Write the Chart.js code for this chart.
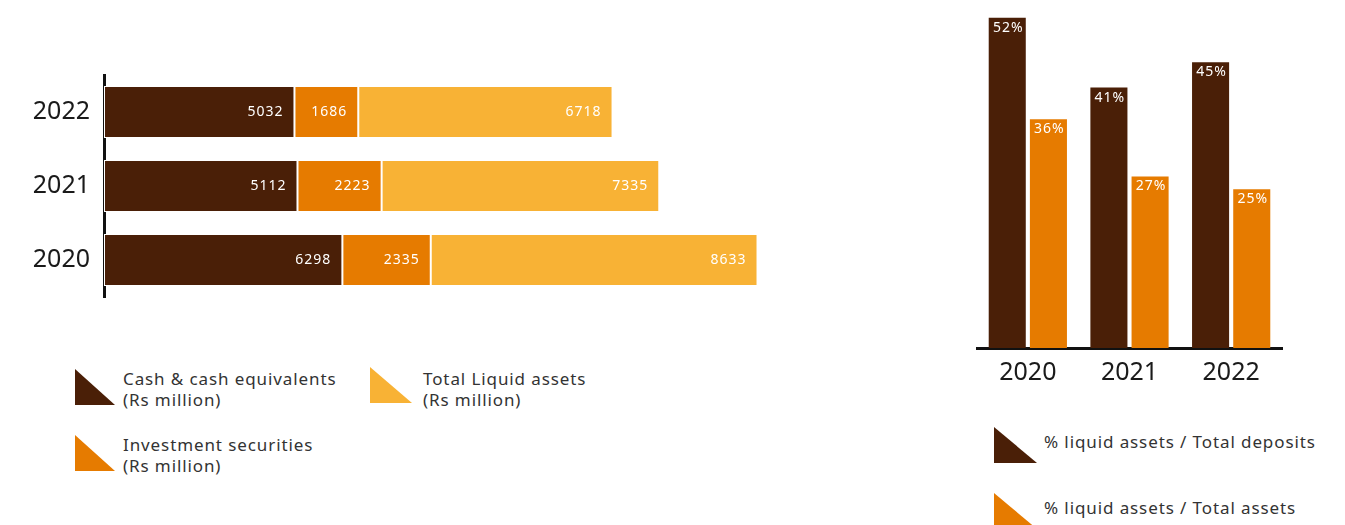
<!DOCTYPE html>
<html>
<head>
<meta charset="utf-8">
<title>Liquid assets</title>
<script src="https://cdn.jsdelivr.net/npm/chart.js@4.4.1/dist/chart.umd.min.js"></script>
<style>
  body { margin: 0; background: #fff; font-family: "Noto Sans", sans-serif; }
  #page { position: relative; width: 1345px; height: 525px; overflow: hidden; }
  #stackWrap { position: absolute; left: 0; top: 0; width: 900px; height: 340px; }
  #ratioWrap { position: absolute; left: 940px; top: 0; width: 405px; height: 403px; }
  .key { position: absolute; }
  .key .tri { position: absolute; left: 0; top: 0; height: 36px;
    clip-path: polygon(0 0, 0 100%, 100% 100%); }
  .key .txt { position: absolute; font-size: 17px; letter-spacing: 0.9px;
    line-height: 21px; color: #333; white-space: nowrap; }
</style>
</head>
<body>
<div id="page">
  <div id="stackWrap"><canvas id="stackChart"></canvas></div>
  <div id="ratioWrap"><canvas id="ratioChart"></canvas></div>
  <div id="stackLegend"></div>
  <div id="ratioLegend"></div>
</div>
<script>
// Rs million, top row first
var years = ['2022', '2021', '2020'];
var cashEquivalents = [5032, 5112, 6298];
var investmentSecurities = [1686, 2223, 2335];
var totalLiquidAssets = [6718, 7335, 8633];

// percentages
var ratioYears = ['2020', '2021', '2022'];
var liquidToDeposits = [52, 41, 45];
var liquidToAssets = [36, 27, 25];

var brown = '#4a1f07';
var orange = '#e67b00';
var yellow = '#f8b235';
var fontName = '"Noto Sans", sans-serif';

// writes each bar's value inside the bar
var valueLabels = {
    id: 'valueLabels',
    afterDatasetsDraw: function (chart, args, opts) {
        var ctx = chart.ctx;
        ctx.save();
        ctx.fillStyle = '#fff';
        ctx.font = '14px ' + fontName;
        ctx.letterSpacing = '1px';
        chart.data.datasets.forEach(function (ds, di) {
            var meta = chart.getDatasetMeta(di);
            meta.data.forEach(function (bar, i) {
                var text = ds.data[i] + (opts.suffix || '');
                if (chart.options.indexAxis === 'y') {
                    ctx.textAlign = 'right';
                    ctx.textBaseline = 'middle';
                    ctx.fillText(text, bar.x - 11, bar.y);
                } else {
                    ctx.textAlign = 'center';
                    ctx.textBaseline = 'middle';
                    ctx.fillText(text, bar.x + 1, bar.y + 10);
                }
            });
        });
        ctx.restore();
    }
};

new Chart(document.getElementById('stackChart'), {
    type: 'bar',
    data: {
        labels: years,
        datasets: [
            { label: 'Cash & cash equivalents|(Rs million)', data: cashEquivalents, backgroundColor: brown },
            { label: 'Investment securities|(Rs million)', data: investmentSecurities, backgroundColor: orange },
            { label: 'Total Liquid assets|(Rs million)', data: totalLiquidAssets, backgroundColor: yellow }
        ]
    },
    options: {
        indexAxis: 'y',
        animation: false,
        responsive: true,
        maintainAspectRatio: false,
        layout: { padding: { left: 0, top: 75, bottom: 43, right: 39 } },
        datasets: {
            bar: {
                barPercentage: 0.7,
                categoryPercentage: 1,
                borderWidth: 1,
                borderColor: '#fff',
                borderSkipped: false
            }
        },
        scales: {
            x: { stacked: true, display: false, min: 0, max: 20000 },
            y: {
                stacked: true,
                grid: { display: false, drawTicks: false },
                border: { display: true, color: '#111', width: 3 },
                ticks: { color: '#1a1a1a', font: { family: fontName, size: 25 }, padding: 14 },
                afterFit: function (scale) { scale.width = 104; }
            }
        },
        plugins: {
            legend: { display: false },
            tooltip: { enabled: false },
            valueLabels: { suffix: '' }
        }
    },
    plugins: [valueLabels]
});

new Chart(document.getElementById('ratioChart'), {
    type: 'bar',
    data: {
        labels: ratioYears,
        datasets: [
            { label: '% liquid assets / Total deposits', data: liquidToDeposits, backgroundColor: brown },
            { label: '% liquid assets / Total assets', data: liquidToAssets, backgroundColor: orange }
        ]
    },
    options: {
        animation: false,
        responsive: true,
        maintainAspectRatio: false,
        layout: { padding: { left: 37, top: 5, bottom: 5, right: 63 } },
        datasets: { bar: { categoryPercentage: 0.81, barPercentage: 0.9 } },
        scales: {
            y: { display: false, min: 0, max: 54 },
            x: {
                grid: { display: false, drawTicks: false },
                border: { display: true, color: '#111', width: 3 },
                ticks: { color: '#1a1a1a', font: { family: fontName, size: 25 }, padding: 10 }
            }
        },
        plugins: {
            legend: { display: false },
            tooltip: { enabled: false },
            valueLabels: { suffix: '%' }
        }
    },
    plugins: [valueLabels]
});

// triangle keys
function addKey(parentId, color, lines, left, top, triWidth, textLeft, textTop) {
    var key = document.createElement('div');
    key.className = 'key';
    key.style.left = left + 'px';
    key.style.top = top + 'px';
    var tri = document.createElement('div');
    tri.className = 'tri';
    tri.style.background = color;
    tri.style.width = triWidth + 'px';
    key.appendChild(tri);
    var txt = document.createElement('div');
    txt.className = 'txt';
    txt.style.left = textLeft + 'px';
    txt.style.top = textTop + 'px';
    lines.forEach(function (line) {
        var row = document.createElement('div');
        row.textContent = line;
        txt.appendChild(row);
    });
    key.appendChild(txt);
    document.getElementById(parentId).appendChild(key);
}

addKey('stackLegend', brown, ['Cash & cash equivalents', '(Rs million)'], 75, 369, 40, 48, -1);
addKey('stackLegend', orange, ['Investment securities', '(Rs million)'], 75, 435, 40, 48, -1);
addKey('stackLegend', yellow, ['Total Liquid assets', '(Rs million)'], 370, 367, 42, 53, 1);
addKey('ratioLegend', brown, ['% liquid assets / Total deposits'], 994, 427, 43, 50, 4);
addKey('ratioLegend', orange, ['% liquid assets / Total assets'], 994, 493, 43, 50, 4);
</script>
</body>
</html>
